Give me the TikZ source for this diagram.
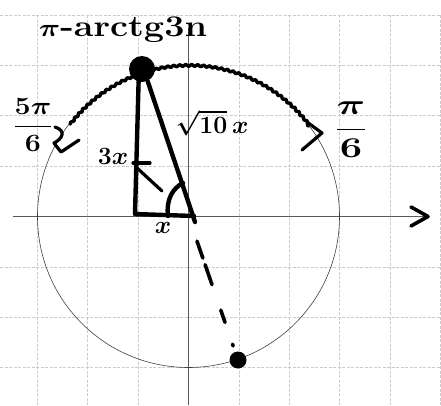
\documentclass[tikz,border=0pt]{standalone}
\usepackage{amsmath}
\usetikzlibrary{decorations.pathmorphing}
\begin{document}
\begin{tikzpicture}[x=1pt,y=-1pt,
  gridline/.style={draw=black!20, line width=0.6pt, dash pattern=on 3pt off 1.5pt},
  axisline/.style={draw=black!65, line width=0.7pt},
  unitcircle/.style={draw=black!75, line width=0.6pt},
  ink/.style={draw=black, line width=4.4pt, line cap=round, line join=round},
  inkthin/.style={draw=black, line width=3.2pt, line cap=round, line join=round},
  wavy/.style={ink, line width=3.4pt, decorate, decoration={snake, amplitude=1pt, segment length=6pt}},
  dotnode/.style={circle, fill=black, inner sep=0pt},
  lbl/.style={inner sep=0pt, font=\fontsize{24}{26}\selectfont\bfseries\boldmath}]
\useasboundingbox (0,0) rectangle (441,405);
\fill[white] (0,0) rectangle (441,405);
% grid
\foreach \gx in {37.3,87.7,138.1,238.9,289.3,339.7,390.1,440.5}
  \draw[gridline] (\gx,15) -- (\gx,405);
\foreach \gy in {14.9,65.3,115.7,166.1,266.9,317.3,367.7}
  \draw[gridline] (0,\gy) -- (441,\gy);
% axes
\coordinate (O) at (188.5,216.5);
\coordinate (xs) at (13,216.5);
\coordinate (xe) at (428,216.5);
\coordinate (ys) at (188.5,28);
\coordinate (ye) at (188.5,405);
\draw[axisline] (xs) -- (xe);
\draw[axisline] (ys) -- (ye);
\coordinate (ah1) at (411,207);
\coordinate (ah2) at (411,226);
\draw[ink, line width=3.6pt] (ah1) -- (xe) -- (ah2);
% circle
\draw[unitcircle] (O) circle[radius=151];
% thick wavy arc
\draw[wavy] (O) ++(-142:150) arc[start angle=-142, end angle=-37, radius=150];
% brackets
\coordinate (lb1) at (55,127);
\coordinate (lb2) at (54,143);
\coordinate (lb3) at (61,152);
\coordinate (lb4) at (79,140);
\draw[inkthin] (lb1) .. controls (67,131) and (62,139) .. (lb2) -- (lb3) -- (lb4);
\coordinate (rb1) at (307,122);
\coordinate (rb2) at (322,133);
\coordinate (rb3) at (302,150);
\draw[inkthin] (rb1) -- (rb2) -- (rb3);
% triangle
\node[dotnode, minimum size=26pt] (P) at (142,69) {};
\coordinate (B) at (135,214);
\coordinate (C) at (194,216);
\coordinate (C2) at (195,222);
\draw[ink] (P.255) -- (B) -- (C);
\draw[ink] (P.295) -- (C2);
% angle mark
\coordinate (am1) at (168,216);
\coordinate (am2) at (183,183);
\draw[ink] (am1) .. controls (166,199) and (173,188) .. (am2);
% tick marks on the side 3x
\coordinate (t1) at (133,163);
\coordinate (t2) at (150,163);
\coordinate (t3) at (137,168);
\coordinate (t4) at (162,191);
\draw[inkthin] (t1) -- (t2);
\draw[inkthin] (t3) -- (t4);
% dashed line to bottom point
\node[dotnode, minimum size=17pt] (Q) at (238,360) {};
\draw[ink, line width=3.6pt, dash pattern=on 18pt off 7pt on 21pt off 27pt on 13pt off 23pt on 2pt off 65pt, dash phase=150pt] (O) -- (Q.center);
% labels
\node[lbl, font=\fontsize{30}{32}\selectfont\bfseries\boldmath, xscale=1.2] (top) at (123,30) {$\pi$-arctg3n};
\node[lbl, font=\fontsize{26}{28}\selectfont\bfseries\boldmath, xscale=1.15] (l56) at (33,125) {$\dfrac{5\pi}{6}$};
\node[lbl, font=\fontsize{31}{33}\selectfont\bfseries\boldmath, xscale=1.6, yscale=1.15] (l16) at (351,130) {$\dfrac{\pi}{6}$};
\node[lbl] (l3x) at (113,156) {$3x$};
\node[lbl] (lsq) at (212,123) {$\sqrt{10}\,x$};
\node[lbl, font=\fontsize{28}{30}\selectfont\bfseries\boldmath] (lx) at (163,228) {$x$};
\end{tikzpicture}
\end{document}
